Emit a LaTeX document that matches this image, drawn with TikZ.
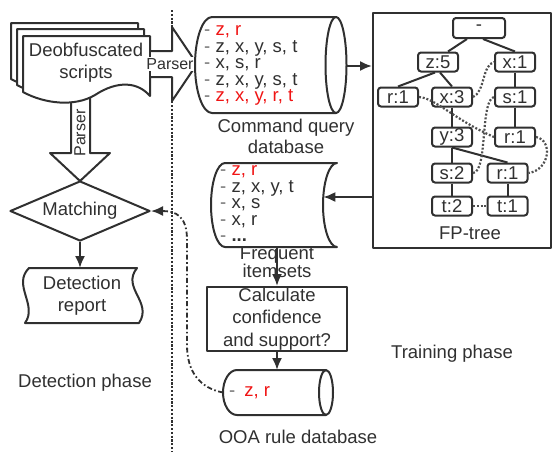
\documentclass[tikz,border=0pt]{standalone}
\usepackage{fontspec}
\setmainfont{Liberation Sans}
\usepackage{xcolor}
\definecolor{ink}{RGB}{48,48,48}
\definecolor{hot}{RGB}{240,20,20}
\definecolor{dashgray}{RGB}{110,110,110}
\usetikzlibrary{arrows.meta,positioning,calc,shapes.geometric}

\newcommand{\dashitem}{\textcolor{dashgray}{-}\ }

\tikzset{
  line/.style={draw=ink, line width=2pt},
  flow/.style={line, -{Latex[length=12pt,width=10pt]}},
  lbl/.style={text=ink, font=\fontsize{18.5}{22}\selectfont, align=center, inner sep=0pt},
  items/.style={text=ink, font=\fontsize{18.5}{16.5}\selectfont, align=left, anchor=west, inner sep=0pt},
  decide/.style={diamond, line, fill=white, minimum width=140pt, minimum height=60pt, aspect=2.33, inner sep=0pt},
  fpnode/.style={line, fill=white, rounded corners=3pt, minimum width=40pt, minimum height=19pt, inner sep=0pt, lbl},
  link/.style={draw=ink!85, line width=2.2pt, dash pattern=on 2pt off 1.8pt},
}

\begin{document}
\begin{tikzpicture}[x=1pt,y=-1pt, line join=round]
\useasboundingbox (0,0) rectangle (553,451);

% phase divider
\draw[ink, line width=2.4pt, dash pattern=on 2.2pt off 1.6pt] (172,10) -- (172,451);

% detection side
\draw[line, fill=white] (71,92) -- (71,153) -- (50,153) -- (80,181) -- (110,153) -- (90,153) -- (90,92);
\foreach \dx/\dy in {12/13,6/7,0/0}
  \draw[line, fill=white, shift={(-\dx,-\dy)}] (23,36) -- (150,36) -- (150,96)
    .. controls (138,82) and (118,80) .. (95,95)
    .. controls (75,107) and (45,104) .. (23,92) -- cycle;
\node[lbl] (scripts) at (86,63) {Deobfuscated\\scripts};
\node[lbl, font=\fontsize{16}{18}\selectfont, rotate=90] (parse2) at (80,133) {Parser};

\draw[line, fill=white] (151,51) -- (172,51) -- (172,27) -- (197,64) -- (172,101) -- (172,77) -- (151,77);
\node[lbl, font=\fontsize{16}{18}\selectfont, fill=white, inner sep=1pt] (parse1) at (170,64) {Parser};

\node[decide, lbl, draw=ink] (match) at (80,211) {Matching};
\coordinate (report-n) at (80,268);
\draw[line, fill=white] (29,268) -- (137,268) .. controls (121,288) and (153,302) .. (139,323)
  -- (25,323) .. controls (38,305) and (12,285) .. cycle;
\node[lbl] (report) at (82,296) {Detection\\report};
\draw[flow] (match.south) -- (report-n);
\node[lbl] (dphase) at (85,383) {Detection phase};

% command query database
\draw[line, fill=white] (336,17) -- (212,17) .. controls (202.6,17) and (195,38.5) .. (195,65)
  .. controls (195,91.5) and (202.6,113) .. (212,113) -- (336,113);
\draw[line, fill=white] (336,65) ellipse [x radius=10.5pt, y radius=48pt];
\coordinate (cq-e) at (346.5,66);
\node[items] (cqlist) at (204,65.5) {\dashitem\textcolor{hot}{z, r}\\ \dashitem z, x, y, s, t\\ \dashitem x, s, r\\ \dashitem z, x, y, s, t\\ \dashitem\textcolor{hot}{z, x, y, r, t}};
\node[lbl, font=\fontsize{18.5}{21}\selectfont] (cqname) at (286,136) {Command query\\database};

% FP-tree
\node[line, minimum width=178pt, minimum height=235pt, inner sep=0pt] (fpbox) at (462,130.5) {};
\node[lbl] (fpname) at (470,233) {FP-tree};
\draw[flow] (cq-e) -- (fpbox.west |- cq-e);

\node[fpnode, minimum width=52pt, minimum height=20pt] (root) at (479,28) {-};
\node[fpnode] (z5) at (438,62) {z:5};
\node[fpnode] (x1) at (515,62) {x:1};
\node[fpnode] (r1a) at (398,97) {r:1};
\node[fpnode] (x3) at (452,97) {x:3};
\node[fpnode] (s1) at (515,97) {s:1};
\node[fpnode] (y3) at (452,137) {y:3};
\node[fpnode] (r1b) at (515,137) {r:1};
\node[fpnode] (s2) at (452,173) {s:2};
\node[fpnode] (r1c) at (507.5,173) {r:1};
\node[fpnode] (t2) at (452,206) {t:2};
\node[fpnode] (t1) at (507.5,206) {t:1};

\draw[line] ([xshift=-12pt]root.south) -- ([xshift=10pt]z5.north);
\draw[line] ([xshift=4pt]root.south) -- (x1.north);
\draw[line] ([xshift=-3pt]z5.south) -- (r1a.north);
\draw[line] ([xshift=2pt]z5.south) -- (x3.north);
\draw[line] (x3) -- (y3);
\draw[line] (y3) -- (s2);
\draw[line] (y3.south) -- (r1c.north);
\draw[line] (s2) -- (t2);
\draw[line] (r1c) -- (t1);
\draw[line] (x1) -- (s1);
\draw[line] (s1) -- (r1b);

\draw[link] (r1a.east) .. controls (435,98) and (455,120) .. (r1b.west);
\draw[link] (x3.east) .. controls (485,92) and (482,65) .. (x1.west);
\draw[link] (s2.east) .. controls (488,172) and (480,100) .. (s1.west);
\draw[link] (r1b.east) .. controls (553,140) and (550,170) .. (r1c.east);
\draw[link] (t2) -- (t1);

% frequent itemsets
\draw[line, fill=white] (337,163) -- (225,163) .. controls (217.3,163) and (211,181.8) .. (211,205)
  .. controls (211,228.2) and (217.3,247) .. (225,247) -- (337,247)
  .. controls (329.3,247) and (323,228.2) .. (323,205)
  .. controls (323,181.8) and (329.3,163) .. cycle;
\coordinate (fi-e) at (323.3,197);
\coordinate (fi-s) at (277,247);
\draw[flow] (fpbox.west |- fi-e) -- (fi-e);
\node[items] (filist) at (220,204) {\dashitem\textcolor{hot}{z, r}\\ \dashitem z, x, y, t\\ \dashitem x, s\\ \dashitem x, r\\ \dashitem\textbf{...}};
\node[lbl] (calc) [line, minimum width=140pt, minimum height=64pt] at (277,319) {};
\draw[flow] (fi-s) -- (calc.north);
\node[lbl, font=\fontsize{18.5}{18}\selectfont] (finame) at (277,262) {Frequent\\itemsets};
\node[lbl, font=\fontsize{18.5}{22.5}\selectfont] (calctext) at (calc) {Calculate\\confidence\\and support?};

% OOA rule database
\draw[line, fill=white] (326,370) -- (237,370) .. controls (229.3,370) and (223,380.1) .. (223,392.5)
  .. controls (223,404.9) and (229.3,415) .. (237,415) -- (326,415);
\draw[line, fill=white] (326,392.5) ellipse [x radius=7pt, y radius=22.5pt];
\coordinate (ooa-n) at (277,370);
\coordinate (ooa-w) at (223,392.5);
\draw[flow] (calc.south) -- (ooa-n);
\node[items] (ooalist) at (229,393) {\textcolor{dashgray}{-}\hspace{9pt}\textcolor{hot}{z, r}};
\node[lbl] (ooaname) at (298,437) {OOA rule database};
\node[lbl] (tphase) at (452,354) {Training phase};

\draw[line, line width=1.8pt, dash pattern=on 5pt off 2.5pt on 1.6pt off 2.5pt, -{Latex[length=12pt,width=10pt]}]
  (ooa-w) .. controls (200,388) and (187,372) .. (187,345) -- (187,240)
  .. controls (187,216) and (176,211) .. (match.east);
\end{tikzpicture}
\end{document}
